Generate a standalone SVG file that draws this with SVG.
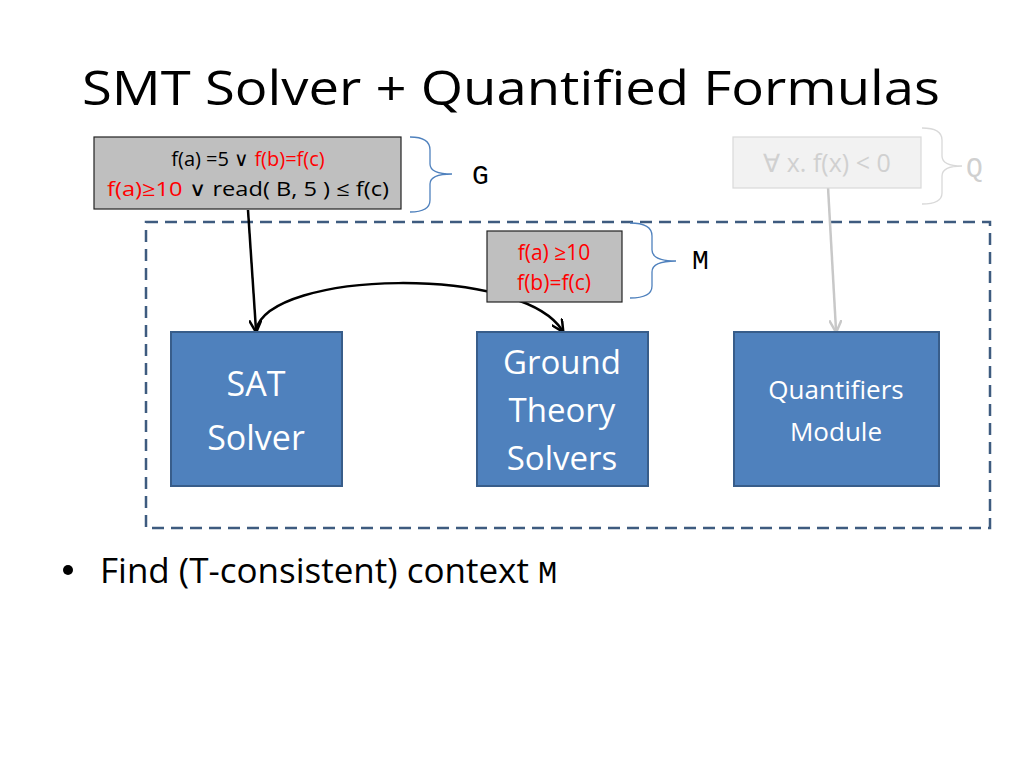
<svg xmlns="http://www.w3.org/2000/svg" width="1024" height="768" viewBox="0 0 1024 768">
<style>
text{font-family:"Open Sans","Noto Sans",sans-serif}
.gray{fill:#bfbfbf;stroke:#222;stroke-width:1.2}
.blue{fill:#4f81bd;stroke:#385d8a;stroke-width:2}
.bt{fill:#fff;text-anchor:middle}
.brace{fill:none;stroke:#4f81bd;stroke-width:1.3}
.red{fill:#ff0000}
.mono{font-family:"Liberation Mono",monospace}
</style>
<defs>
<marker id="ah" viewBox="0 0 10 10" refX="8" refY="5" markerWidth="5" markerHeight="5" orient="auto"><path d="M0,0 L10,5 L0,10" fill="none" stroke="#000" stroke-width="2"/></marker>
<marker id="ahg" viewBox="0 0 10 10" refX="8" refY="5" markerWidth="5" markerHeight="5" orient="auto"><path d="M0,0 L10,5 L0,10" fill="none" stroke="#c8c8c8" stroke-width="2"/></marker>
</defs>
<rect width="1024" height="768" fill="#fff"/>
<text x="82" y="105" font-size="48" fill="#000" textLength="858" lengthAdjust="spacingAndGlyphs">SMT Solver + Quantified Formulas</text>
<rect x="146" y="222" width="844" height="306" fill="none" stroke="#3e5b7f" stroke-width="2.5" stroke-dasharray="12,7"/>
<g id="connectors">
<path d="M248,210 L256,330" stroke="#000" stroke-width="2.5" fill="none" marker-end="url(#ah)"/>
<path d="M256,330 C270,270 520,265 562,330" stroke="#000" stroke-width="2.5" fill="none" marker-end="url(#ah)"/>
<path d="M828,187 L836,330" stroke="#c8c8c8" stroke-width="2.5" fill="none" marker-end="url(#ahg)"/>
</g>
<g id="G">
<rect class="gray" x="94" y="137" width="307" height="72"/>
<text x="248" y="166" font-size="20" text-anchor="middle">f(a) =5 ∨ <tspan class="red">f(b)=f(c)</tspan></text>
<text x="248" y="196" font-size="20" text-anchor="middle" textLength="282" lengthAdjust="spacingAndGlyphs"><tspan class="red">f(a)≥10</tspan> ∨ read( B, 5 ) ≤ f(c)</text>
<path class="brace" d="M410,137 Q430,137 430,150 L430,164 Q430,174 452,174 Q430,174 430,184 L430,200 Q430,212 410,212"/>
<text class="mono" x="472" y="184" font-size="28">G</text>
</g>
<g id="Q">
<rect x="733" y="137" width="188" height="51" fill="#f2f2f2" stroke="#d9d9d9" stroke-width="1.2"/>
<text x="827" y="172" font-size="25" fill="#d0d0d0" text-anchor="middle">∀ x. f(x) &lt; 0</text>
<path d="M922,128 Q942,128 942,140 L942,156 Q942,166 962,166 Q942,166 942,176 L942,193 Q942,204 922,204" fill="none" stroke="#d9d9d9" stroke-width="1.3"/>
<text class="mono" x="966" y="176" font-size="28" fill="#d0d0d0">Q</text>
</g>
<g id="M">
<rect class="gray" x="487" y="231" width="135" height="71"/>
<text x="554" y="260" font-size="21" class="red" text-anchor="middle">f(a) ≥10</text>
<text x="554" y="290" font-size="21" class="red" text-anchor="middle">f(b)=f(c)</text>
<path class="brace" d="M630,223 Q652,223 652,236 L652,250 Q652,261 676,261 Q652,261 652,272 L652,286 Q652,298 630,298"/>
<text class="mono" x="692" y="269" font-size="28">M</text>
</g>
<g id="sat">
<rect class="blue" x="171" y="332" width="171" height="154"/>
<text class="bt" x="256" y="396" font-size="34">SAT</text>
<text class="bt" x="256" y="450" font-size="34">Solver</text>
</g>
<g id="gts">
<rect class="blue" x="477" y="332" width="171" height="154"/>
<text class="bt" x="562" y="374" font-size="33">Ground</text>
<text class="bt" x="562" y="422" font-size="33">Theory</text>
<text class="bt" x="562" y="470" font-size="33">Solvers</text>
</g>
<g id="qm">
<rect class="blue" x="734" y="332" width="205" height="154"/>
<text class="bt" x="836" y="399" font-size="26">Quantifiers</text>
<text class="bt" x="836" y="441" font-size="26">Module</text>
</g>
<circle cx="68" cy="570" r="5" fill="#000"/>
<text x="100" y="583" font-size="35">Find (T-consistent) context <tspan class="mono" font-size="32">M</tspan></text>
</svg>
